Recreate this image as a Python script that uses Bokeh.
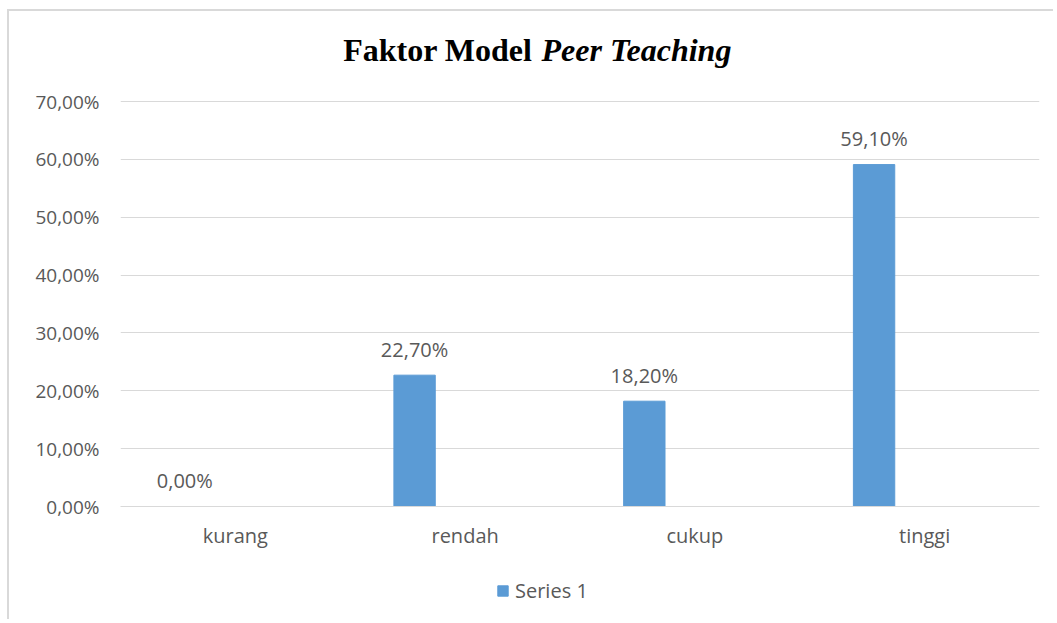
from bokeh.plotting import figure
from bokeh.layouts import column
from bokeh.models import (FactorRange, Range1d, ColumnDataSource, CustomJSTickFormatter,
                          FixedTicker, Legend, LegendItem, Label)
from bokeh.transform import dodge
from bokeh.core.properties import value
from bokeh.embed import file_html
from bokeh.resources import INLINE

title_plain = "Faktor Model"
title_italic = "Peer Teaching"
categories = ["kurang", "rendah", "cukup", "tinggi"]
series_name = "Series 1"
values = [0.0, 22.7, 18.2, 59.1]
y_ticks = [0, 10, 20, 30, 40, 50, 60, 70]

labels = [f"{v:.2f}".replace(".", ",") + "%" for v in values]
src = ColumnDataSource(dict(cat=categories, val=values, lab=labels))

BAR = "#5B9BD5"
GREY = "#595959"
GRID = "#D9D9D9"
FONT = "Open Sans"

# frame: page x 120..1039, page y 30..506 ; 0..70 spans 405 px
PX_Y = 405 / 70.0
PX_X = 919 / 4.0
Y_TOP = 70 + (101 - 30) / PX_Y

p = figure(x_range=FactorRange(*categories, range_padding=0), y_range=Range1d(0, Y_TOP),
           width=1046, height=560, output_backend="svg", toolbar_location=None,
           min_border_left=111, min_border_right=16, min_border_top=19, min_border_bottom=65)
p.styles = {"border-top": f"2px solid {GRID}", "border-left": f"2px solid {GRID}"}
p.outline_line_color = None
p.background_fill_color = "white"
p.border_fill_color = "white"

r = p.vbar(x=dodge("cat", -0.22, range=p.x_range), top="val", width=0.18, source=src,
           fill_color=BAR, line_color=BAR)

p.text(x=dodge("cat", -0.22, range=p.x_range), y="val", text="lab", source=src,
       text_align="center", text_baseline="alphabetic", y_offset=-26,
       text_font=value(FONT), text_font_size="20px", text_color=GREY)

# title (bold + bold italic)
ty = 70 + (101 - 49) / PX_Y
p.add_layout(Label(x=(532 - 120) / PX_X, y=ty, text=title_plain,
                   text_font="Liberation Serif", text_font_style="bold", text_font_size="32px",
                   text_color="black", text_align="right", text_baseline="alphabetic"))
p.add_layout(Label(x=(541 - 120) / PX_X, y=ty, text=title_italic,
                   text_font="Liberation Serif", text_font_style="bold italic", text_font_size="32px",
                   text_color="black", text_align="left", text_baseline="alphabetic"))

# axes
p.yaxis.ticker = FixedTicker(ticks=y_ticks)
p.yaxis.formatter = CustomJSTickFormatter(code="return tick.toFixed(2).replace('.', ',') + '%';")
p.yaxis.axis_line_color = None
p.yaxis.major_tick_line_color = None
p.yaxis.minor_tick_line_color = None
p.yaxis.major_label_standoff = 15
p.yaxis.major_label_text_font = FONT
p.yaxis.major_label_text_font_size = "19px"
p.yaxis.major_label_text_color = GREY

p.xaxis.axis_line_color = GRID
p.xaxis.axis_line_width = 1
p.xaxis.major_tick_line_color = None
p.xaxis.minor_tick_line_color = None
p.xaxis.major_label_standoff = 9
p.xaxis.major_label_text_font = FONT
p.xaxis.major_label_text_font_size = "20px"
p.xaxis.major_label_text_color = GREY

p.xgrid.grid_line_color = None
p.ygrid.grid_line_color = GRID
p.ygrid.grid_line_width = 1

# legend strip below the chart (bars fall outside its view; only the legend shows)
lf = figure(width=1046, height=50, x_range=p.x_range, y_range=Range1d(1000, 1050),
            output_backend="svg", toolbar_location=None, x_axis_type=None, y_axis_type=None,
            min_border=0)
lf.styles = {"border-left": f"2px solid {GRID}"}
lf.outline_line_color = None
lf.xgrid.grid_line_color = None
lf.ygrid.grid_line_color = None
lf.border_fill_color = "white"
lr = lf.vbar(x=dodge("cat", -0.22, range=p.x_range), top="val", width=0.18, source=src,
             fill_color=BAR, line_color=BAR)

legend = Legend(items=[LegendItem(label=series_name, renderers=[lr])],
                location=(376, 15), orientation="horizontal",
                glyph_width=13, glyph_height=13, label_standoff=6, label_height=20,
                padding=0, margin=0, spacing=0, border_line_color=None,
                background_fill_alpha=0, label_text_font=FONT, label_text_font_size="20px",
                label_text_color=GREY)
lf.add_layout(legend, "center")

layout = column(p, lf, spacing=0)
layout.styles = {"margin-left": "7px", "margin-top": "9px"}
open("out.html", "w").write(file_html(layout, INLINE))
